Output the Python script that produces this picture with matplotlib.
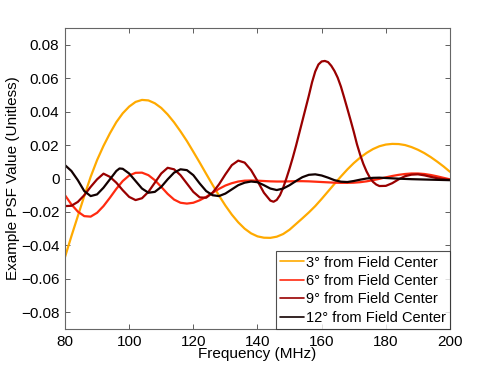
import matplotlib
matplotlib.use("Agg")
import matplotlib.pyplot as plt
import numpy as np

freq_3 = [80, 82, 84, 86, 88, 90, 92, 94, 96, 98, 100, 102, 104, 106, 108, 110, 112, 114, 116, 118,
          120, 122, 124, 126, 128, 130, 132, 134, 136, 138, 140, 142, 144, 146, 148, 150, 152, 154,
          156, 158, 160, 162, 164, 166, 168, 170, 172, 174, 176, 178, 180, 182, 184, 186, 188, 190,
          192, 194, 196, 198, 200]
psf_3 = [-0.047, -0.0345, -0.0225, -0.0105, 0.0010, 0.0110, 0.0195, 0.0270, 0.0337, 0.0390, 0.0430,
         0.0458, 0.047, 0.0467, 0.045, 0.0422, 0.0383, 0.0336, 0.0282, 0.0224, 0.016, 0.0095,
         0.0028, -0.0038, -0.0102, -0.0162, -0.0216, -0.0262, -0.030, -0.0328, -0.0346, -0.0354,
         -0.0355, -0.0348, -0.0332, -0.0306, -0.0272, -0.0238, -0.0203, -0.0165, -0.0122, -0.0077,
         -0.0032, 0.0012, 0.0054, 0.0092, 0.0125, 0.0153, 0.0176, 0.0193, 0.0203, 0.0207, 0.0206,
         0.0200, 0.0188, 0.0172, 0.0152, 0.0128, 0.0101, 0.0072, 0.0040]

freq_6 = [80, 82, 84, 86, 88, 90, 92, 94, 96, 98, 100, 102, 104, 106, 108, 110, 112, 114, 116, 118,
          120, 122, 124, 126, 128, 130, 132, 134, 136, 138, 140, 142, 144, 146, 148, 150, 152, 154,
          156, 158, 160, 162, 164, 166, 168, 170, 172, 174, 176, 178, 180, 182, 184, 186, 188, 190,
          192, 194, 196, 198, 200]
psf_6 = [-0.010, -0.0155, -0.0198, -0.0225, -0.0228, -0.0205, -0.0165, -0.0115, -0.0062, -0.0015,
         0.0018, 0.0034, 0.0035, 0.0020, -0.0010, -0.0050, -0.0092, -0.0126, -0.0145, -0.0150,
         -0.0145, -0.0130, -0.0110, -0.0085, -0.0062, -0.0042, -0.0028, -0.0018, -0.0013, -0.0012,
         -0.0013, -0.0015, -0.0017, -0.0018, -0.0018, -0.0017, -0.0016, -0.0016, -0.0017, -0.0019,
         -0.0021, -0.0023, -0.0025, -0.0026, -0.0026, -0.0025, -0.0022, -0.0017, -0.0010, -0.0002,
         0.0007, 0.0015, 0.0022, 0.0027, 0.0030, 0.0030, 0.0027, 0.0021, 0.0013, 0.0004, -0.0005]

freq_9 = [80, 82, 84, 86, 88, 90, 92, 94, 96, 98, 100, 102, 104, 106, 108, 110, 112, 114, 116, 118,
          120, 122, 124, 126, 128, 130, 132, 134, 136, 138, 140, 142, 144, 145, 146, 147, 148, 149,
          150, 151, 152, 153, 154, 155, 156, 157, 158, 159, 160, 161, 162, 163, 164, 165, 166, 167,
          168, 169, 170, 171, 172, 173, 174, 175, 176, 177, 178, 180, 182, 184, 186, 188, 190, 192,
          194, 196, 198, 200]
psf_9 = [-0.0165, -0.0163, -0.0140, -0.0100, -0.0050, -0.0005, 0.0029, 0.0010, -0.0025, -0.0070,
         -0.0110, -0.0129, -0.0118, -0.0080, -0.0025, 0.0030, 0.0064, 0.0055, 0.0020, -0.0030,
         -0.0080, -0.0113, -0.0115, -0.0085, -0.0035, 0.0025, 0.0080, 0.0107, 0.0095, 0.0050,
         -0.0015, -0.0085, -0.0132, -0.0139, -0.0128, -0.0100, -0.0055, 0.0000, 0.0060, 0.0125,
         0.0195, 0.0270, 0.0345, 0.0420, 0.0495, 0.0575, 0.0640, 0.0682, 0.0700, 0.0703, 0.0696,
         0.0674, 0.0643, 0.0603, 0.0550, 0.0485, 0.0418, 0.0350, 0.0280, 0.0205, 0.0142, 0.0087,
         0.0042, 0.0006, -0.0020, -0.0036, -0.0045, -0.0044, -0.0028, -0.0005, 0.0014, 0.0023,
         0.0025, 0.0019, 0.0010, 0.0002, -0.0004, -0.0008]

freq_12 = [80, 82, 84, 86, 88, 90, 92, 94, 96, 97, 98, 100, 102, 104, 106, 108, 110, 112, 114, 116,
           118, 120, 122, 124, 126, 128, 130, 132, 134, 136, 138, 140, 142, 144, 146, 148, 150, 152,
           154, 156, 158, 160, 162, 164, 166, 168, 170, 172, 174, 176, 178, 180, 184, 188, 192, 196,
           200]
psf_12 = [0.0080, 0.0045, -0.0010, -0.0075, -0.0105, -0.0095, -0.0055, -0.0005, 0.0045, 0.0060,
          0.0058, 0.0030, -0.0015, -0.0060, -0.0085, -0.0080, -0.0050, -0.0005, 0.0035, 0.0055,
          0.0050, 0.0020, -0.0030, -0.0075, -0.0100, -0.0105, -0.0090, -0.0065, -0.0040, -0.0025,
          -0.0018, -0.0022, -0.0040, -0.0060, -0.0069, -0.0060, -0.0040, -0.0015, 0.0008, 0.0022,
          0.0025, 0.0018, 0.0005, -0.0010, -0.0019, -0.0021, -0.0015, -0.0007, 0.0000, 0.0004,
          0.0005, 0.0003, -0.0001, -0.0004, -0.0006, -0.0008, -0.0010]

labels = ["3\u00b0 from Field Center", "6\u00b0 from Field Center",
          "9\u00b0 from Field Center", "12\u00b0 from Field Center"]
colors = ["#ffaa00", "#ff2a10", "#990000", "#120000"]

x_ticks = [80, 100, 120, 140, 160, 180, 200]
y_ticks = [-0.08, -0.06, -0.04, -0.02, 0, 0.02, 0.04, 0.06, 0.08]
y_ticklabels = ["\u22120.08", "\u22120.06", "\u22120.04", "\u22120.02", "0",
                "0.02", "0.04", "0.06", "0.08"]

plt.rcParams['font.family'] = ['Liberation Sans', 'DejaVu Sans']

fig = plt.figure(figsize=(4.98, 3.70), dpi=100)
ax = fig.add_axes([0.1305, 0.1108, 0.7731, 0.8135])

series = [(freq_3, psf_3), (freq_6, psf_6), (freq_9, psf_9), (freq_12, psf_12)]
for (f, v), c, lab in zip(series, colors, labels):
    ax.plot(f, v, color=c, lw=1.6, label=lab, solid_capstyle='round', solid_joinstyle='round')

ax.set_xlim(80, 200)
ax.set_ylim(-0.09, 0.09)
ax.set_xticks(x_ticks)
ax.set_xticklabels([str(t) for t in x_ticks])
ax.set_yticks(y_ticks)
ax.set_yticklabels(y_ticklabels)
ax.tick_params(direction='in', top=True, right=True, length=3.5, width=0.6,
               labelsize=11, colors='#444444', labelcolor='black', pad=4)
for s in ax.spines.values():
    s.set_color('#666666')
    s.set_linewidth(0.8)

ax.set_xlabel("Frequency (MHz)", fontsize=11, labelpad=-1)
ax.set_ylabel("Example PSF Value (Unitless)", fontsize=11, labelpad=1)

leg = ax.legend(loc='lower right', fontsize=10.5, frameon=True, fancybox=False,
                borderaxespad=0.0, handlelength=1.6, handletextpad=0.15,
                labelspacing=0.3, borderpad=0.3)
leg.get_frame().set_edgecolor('#222222')
leg.get_frame().set_linewidth(0.8)
for line in leg.get_lines():
    line.set_linewidth(1.2)

fig.savefig("out.png", dpi=100)
